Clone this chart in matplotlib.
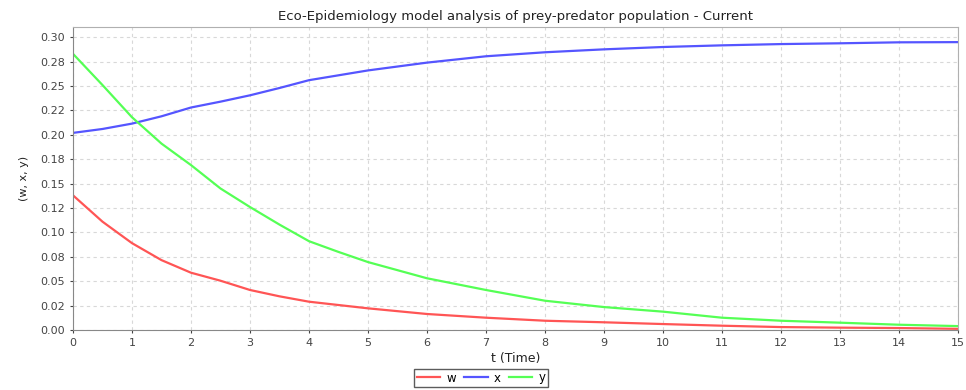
import matplotlib.pyplot as plt

# Data
t = [0, 0.5, 1, 1.5, 2, 2.5, 3, 3.5, 4, 4.5, 5, 6, 7, 8, 9, 10, 11, 12, 13, 14, 15]
w = [0.138, 0.111, 0.089, 0.0716, 0.0587, 0.0505, 0.041, 0.0345, 0.029, 0.0256, 0.0222,
     0.0164, 0.0126, 0.0095, 0.0079, 0.0061, 0.0044, 0.003, 0.0024, 0.002, 0.0012]
x = [0.202, 0.206, 0.2115, 0.219, 0.228, 0.234, 0.2405, 0.248, 0.256, 0.261, 0.266,
     0.274, 0.2805, 0.2846, 0.2876, 0.290, 0.2917, 0.293, 0.2938, 0.2948, 0.295]
y = [0.283, 0.251, 0.218, 0.191, 0.169, 0.145, 0.126, 0.108, 0.091, 0.080, 0.0696,
     0.053, 0.041, 0.030, 0.0235, 0.0188, 0.0126, 0.0095, 0.0075, 0.0054, 0.004]

yticks = [0, 0.025, 0.05, 0.075, 0.1, 0.125, 0.15, 0.175, 0.2, 0.225, 0.25, 0.275, 0.3]
ytick_labels = ['0.00', '0.02', '0.05', '0.08', '0.10', '0.12', '0.15', '0.18',
                '0.20', '0.22', '0.25', '0.28', '0.30']

plt.rcParams['font.family'] = ['DejaVu Sans']

fig = plt.figure(figsize=(9.66, 3.9), dpi=100)
ax = fig.add_axes([73 / 966, 1 - 330 / 390, (958 - 73) / 966, (330 - 27) / 390])

ax.plot(t, w, color='#ff5555', lw=1.6, label='w')
ax.plot(t, x, color='#5555ff', lw=1.6, label='x')
ax.plot(t, y, color='#55ff55', lw=1.6, label='y')

ax.set_xlim(0, 15)
ax.set_ylim(0, 0.3105)
ax.set_xticks(range(16))
ax.set_yticks(yticks)
ax.set_yticklabels(ytick_labels)
ax.tick_params(labelsize=8, colors='#444444', length=2, width=0.8)
ax.grid(True, color='#d8d8d8', linestyle=(0, (3, 3)), linewidth=0.8)
for s in ax.spines.values():
    s.set_color('#b0b0b0')
ax.spines['left'].set_color('#888888')
ax.spines['bottom'].set_color('#888888')

ax.set_title('Eco-Epidemiology model analysis of prey-predator population - Current',
             fontsize=9.5, color='#222222', pad=5)
ax.set_xlabel('t (Time)', fontsize=9, color='#222222', labelpad=3)
ax.set_ylabel('(w, x, y)', fontsize=8, color='#222222', labelpad=8)

leg = fig.legend(loc='center', bbox_to_anchor=(481 / 966, 1 - 378 / 390), ncol=3,
                 fontsize=8.5, frameon=True, fancybox=False, handlelength=2.0,
                 handletextpad=0.5, columnspacing=0.7, borderpad=0.25, borderaxespad=0)
leg.get_frame().set_edgecolor('#333333')
leg.get_frame().set_linewidth(1.0)

fig.savefig('out.png', dpi=100)
